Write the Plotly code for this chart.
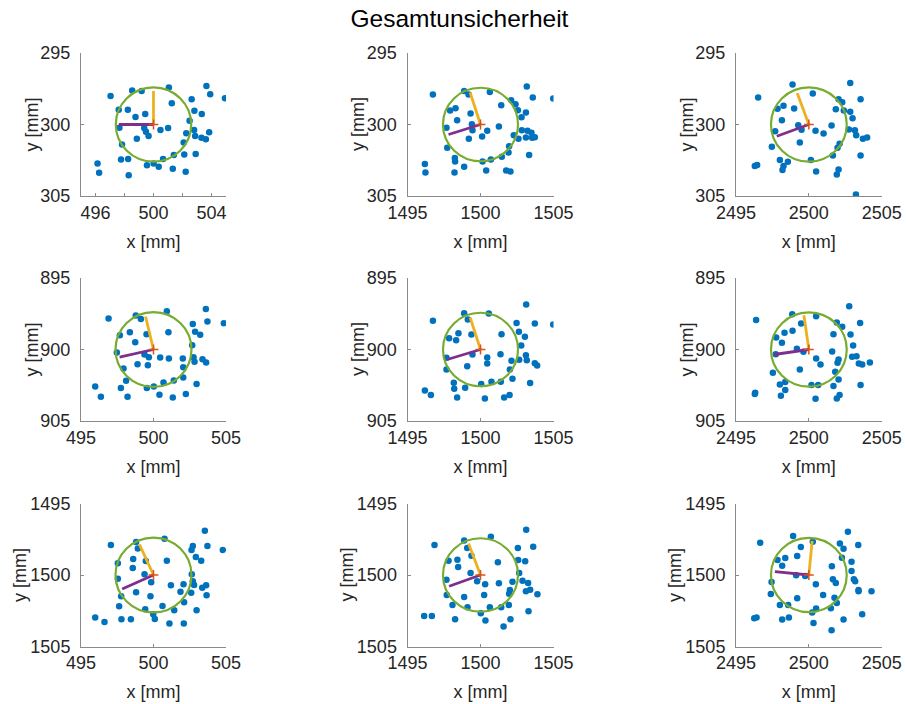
import plotly.graph_objects as go

# ---------------- data ----------------
x_centers = [500, 1500, 2500]
y_centers = [300, 900, 1500]
circle_radius = [2.6, 2.57, 2.6, 2.62, 2.57, 2.6, 2.62, 2.57, 2.6]

x_r1c1 = [503.65, 503.91, 504.93, 501.06, 498.53, 499.18, 497.04, 501.26, 502.63, 497.60,
          498.23, 502.82, 503.33, 499.43, 498.76, 502.49, 497.65, 499.36, 499.48, 499.66,
          500.48, 501.01, 502.26, 502.80, 503.84, 502.87, 503.31, 503.61, 498.85, 502.08,
          497.83, 501.40, 502.12, 502.91, 497.76, 498.25, 500.66, 496.14, 496.25, 499.55,
          500.01, 500.36, 501.33, 502.22, 498.29]
y_r1c1 = [297.30, 297.88, 298.16, 297.41, 297.62, 297.65, 298.00, 298.51, 298.23, 298.96,
          298.96, 299.03, 299.26, 299.26, 299.47, 299.73, 300.22, 300.25, 300.50, 300.81,
          300.39, 300.25, 300.62, 300.39, 300.55, 300.81, 300.93, 301.04, 300.99, 301.25,
          301.39, 302.14, 302.10, 302.07, 302.45, 302.42, 302.42, 302.73, 303.38, 302.85,
          302.73, 302.96, 303.10, 303.31, 303.55]

x_r1c2 = [1503.17, 1496.74, 1498.88, 1499.18, 1500.64, 1503.58, 1504.98, 1502.10, 1502.40, 1501.42,
          1502.56, 1503.11, 1502.81, 1497.92, 1498.29, 1499.32, 1498.40, 1499.41, 1499.45, 1497.67,
          1500.46, 1501.26, 1500.11, 1499.20, 1502.83, 1503.22, 1503.49, 1502.28, 1502.60, 1503.11,
          1503.72, 1503.54, 1497.72, 1501.96, 1501.92, 1501.46, 1503.33, 1500.71, 1500.14, 1498.24,
          1498.26, 1498.88, 1496.19, 1496.23, 1498.22, 1500.39, 1501.76, 1502.05]
y_r1c2 = [297.34, 297.90, 297.65, 297.90, 297.72, 298.11, 298.18, 298.30, 298.58, 298.65,
          299.00, 299.16, 299.49, 299.02, 298.86, 299.23, 299.70, 299.98, 300.40, 300.23,
          300.44, 300.14, 300.84, 301.00, 300.40, 300.44, 300.58, 300.75, 301.00, 300.91,
          300.89, 300.93, 301.63, 301.52, 301.96, 302.26, 302.14, 302.45, 302.59, 302.35,
          302.59, 302.96, 302.77, 303.36, 303.36, 303.22, 303.22, 303.29]

x_r1c3 = [2498.88, 2502.84, 2496.52, 2500.27, 2502.04, 2502.29, 2503.55, 2497.85, 2498.26, 2498.99,
          2501.85, 2502.40, 2502.84, 2503.00, 2498.15, 2499.27, 2499.50, 2500.46, 2501.01, 2501.56,
          2502.75, 2503.16, 2503.25, 2503.71, 2504.00, 2497.69, 2499.38, 2497.46, 2502.11, 2501.97,
          2501.65, 2503.55, 2500.14, 2498.01, 2498.56, 2498.26, 2498.19, 2500.50, 2502.04, 2501.92,
          2496.29, 2496.45, 2503.23]
y_r1c3 = [297.20, 297.09, 298.11, 297.83, 298.23, 298.44, 298.23, 298.90, 298.69, 298.88,
          298.93, 299.02, 299.11, 299.56, 299.70, 300.05, 300.37, 300.44, 300.63, 300.07,
          300.35, 300.40, 300.75, 301.00, 300.91, 300.47, 301.26, 301.56, 301.35, 301.63,
          302.17, 302.17, 302.49, 302.49, 302.61, 302.91, 303.19, 303.29, 303.15, 303.50,
          302.91, 302.84, 304.90]

x_r2c1 = [503.61, 503.72, 504.85, 496.90, 498.78, 499.13, 500.92, 502.71, 502.87, 503.22,
          501.03, 498.37, 497.68, 499.52, 498.74, 502.67, 497.47, 499.38, 499.68, 499.61,
          500.46, 501.06, 502.02, 502.76, 502.83, 503.38, 503.63, 498.90, 502.05, 497.93,
          498.11, 497.75, 499.54, 500.02, 500.69, 501.40, 502.05, 502.97, 495.98, 496.37,
          498.21, 500.41, 501.33, 502.23]
y_r2c1 = [897.16, 898.04, 898.16, 897.83, 897.62, 897.86, 897.32, 898.21, 898.76, 898.97,
          898.79, 898.79, 899.00, 898.93, 899.49, 899.70, 900.21, 900.35, 900.54, 901.10,
          900.56, 900.63, 900.63, 900.54, 900.86, 900.68, 900.91, 901.03, 901.24, 901.33,
          902.19, 902.70, 902.70, 902.59, 902.31, 902.17, 901.96, 902.42, 902.59, 903.31,
          903.31, 903.17, 903.36, 903.12]

x_r2c2 = [1503.13, 1498.88, 1499.13, 1500.57, 1496.74, 1502.47, 1503.72, 1504.98, 1502.63, 1501.44,
          1503.04, 1498.49, 1497.85, 1498.33, 1499.38, 1502.79, 1503.11, 1503.17, 1499.45, 1500.46,
          1500.46, 1501.37, 1497.67, 1499.09, 1497.67, 1502.12, 1502.65, 1503.72, 1503.88, 1502.01,
          1498.17, 1498.20, 1498.95, 1500.05, 1500.75, 1501.39, 1502.19, 1503.40, 1496.19, 1496.60,
          1498.40, 1500.30, 1501.62, 1501.99]
y_r2c2 = [896.85, 897.46, 897.90, 897.48, 897.99, 898.14, 898.18, 898.25, 898.76, 898.93,
          899.11, 898.86, 899.21, 899.35, 898.95, 899.72, 900.40, 900.75, 900.35, 900.56,
          900.98, 900.33, 900.58, 901.17, 901.40, 900.79, 900.72, 900.96, 901.12, 901.40,
          902.33, 902.75, 902.68, 902.42, 902.26, 902.26, 902.05, 902.35, 902.87, 903.19,
          903.36, 903.43, 903.36, 903.19]

x_r2c3 = [2502.77, 2496.38, 2498.86, 2499.47, 2500.50, 2501.92, 2502.29, 2503.52, 2498.33, 2498.88,
          2497.76, 2498.15, 2501.69, 2502.86, 2503.04, 2499.18, 2499.63, 2501.60, 2500.50, 2500.80,
          2502.04, 2501.97, 2502.97, 2503.27, 2503.43, 2503.66, 2504.19, 2497.73, 2499.38, 2497.53,
          2501.81, 2502.04, 2501.69, 2503.55, 2500.18, 2500.64, 2498.01, 2498.38, 2498.38, 2498.08,
          2500.46, 2502.11, 2501.92, 2496.32, 2496.29]
y_r2c3 = [896.97, 897.93, 897.53, 898.18, 897.67, 898.11, 898.41, 898.14, 898.83, 898.69,
          899.16, 899.53, 898.93, 898.95, 899.72, 899.95, 900.16, 900.14, 900.63, 901.05,
          900.70, 900.93, 900.51, 900.47, 900.98, 901.05, 900.91, 900.33, 901.40, 901.63,
          901.56, 902.10, 902.56, 902.49, 902.49, 902.49, 902.45, 902.28, 902.84, 903.24,
          903.45, 903.19, 903.43, 903.03, 903.12]

x_r3c1 = [503.54, 503.72, 504.78, 497.06, 498.80, 498.92, 500.76, 502.71, 502.62, 502.92,
          503.29, 500.92, 498.60, 497.54, 499.47, 498.57, 502.64, 499.38, 497.54, 499.84,
          501.20, 502.07, 502.71, 502.80, 503.36, 503.63, 498.80, 497.77, 499.79, 501.86,
          502.60, 503.66, 502.11, 497.63, 499.43, 500.62, 499.98, 500.09, 501.43, 502.97,
          495.98, 496.62, 497.79, 498.44, 501.10, 502.09]
y_r3c1 = [1496.90, 1497.97, 1498.25, 1497.90, 1497.69, 1498.14, 1497.46, 1497.97, 1498.25, 1498.74,
          1499.00, 1499.00, 1498.88, 1499.18, 1499.02, 1499.51, 1499.95, 1499.95, 1500.26, 1500.51,
          1500.72, 1500.65, 1500.44, 1500.70, 1500.89, 1500.72, 1501.21, 1501.49, 1501.49, 1501.17,
          1501.24, 1501.42, 1501.91, 1502.19, 1502.40, 1502.17, 1502.75, 1503.08, 1502.47, 1502.47,
          1502.98, 1503.29, 1503.10, 1503.10, 1503.40, 1503.40]

x_r3c2 = [1503.13, 1496.85, 1498.88, 1499.09, 1500.71, 1502.56, 1503.61, 1497.81, 1498.42, 1498.47,
          1499.38, 1501.19, 1502.58, 1503.06, 1502.65, 1499.32, 1499.77, 1500.32, 1501.26, 1502.19,
          1502.88, 1503.26, 1497.67, 1497.69, 1498.88, 1500.25, 1502.01, 1501.96, 1503.11, 1503.40,
          1503.90, 1498.08, 1499.11, 1500.64, 1501.42, 1501.94, 1500.02, 1500.34, 1498.26, 1496.14,
          1496.67, 1502.05, 1501.58, 1503.29]
y_r3c2 = [1496.83, 1497.90, 1497.58, 1498.11, 1497.32, 1498.11, 1498.02, 1499.00, 1498.93, 1499.44,
          1498.65, 1499.11, 1498.95, 1499.04, 1499.86, 1499.86, 1500.44, 1500.65, 1500.58, 1500.47,
          1500.40, 1500.56, 1500.33, 1501.40, 1501.54, 1501.40, 1501.05, 1501.31, 1501.14, 1501.03,
          1501.35, 1502.10, 1502.26, 1502.26, 1502.26, 1502.10, 1502.68, 1503.19, 1503.10, 1502.87,
          1502.87, 1503.10, 1503.61, 1502.54]

x_r3c3 = [2502.68, 2496.66, 2498.92, 2499.45, 2500.27, 2502.13, 2502.38, 2503.39, 2497.85, 2498.38,
          2499.20, 2498.17, 2501.58, 2502.27, 2502.93, 2502.93, 2499.13, 2499.75, 2501.65, 2501.85,
          2500.48, 2503.09, 2503.18, 2503.41, 2503.41, 2504.30, 2497.44, 2497.39, 2499.20, 2500.98,
          2501.76, 2501.92, 2501.51, 2500.50, 2500.23, 2498.01, 2498.58, 2498.17, 2498.63, 2500.32,
          2502.38, 2501.56, 2503.66, 2496.25, 2496.41]
y_r3c3 = [1496.97, 1497.74, 1497.27, 1498.04, 1497.67, 1497.79, 1498.16, 1497.90, 1498.95, 1498.81,
          1498.67, 1499.35, 1499.39, 1498.79, 1499.07, 1499.72, 1500.02, 1500.07, 1500.30, 1500.56,
          1500.65, 1500.30, 1500.44, 1501.05, 1501.14, 1501.14, 1500.49, 1501.33, 1501.63, 1501.40,
          1501.59, 1501.96, 1502.33, 1502.35, 1502.63, 1502.10, 1502.10, 1503.12, 1502.98, 1503.36,
          1503.12, 1503.87, 1502.75, 1503.03, 1502.98]

# end points of the two axis vectors (orange / purple), starting at the panel centre
orange_end_x = [500.00, 1499.29, 2499.20, 499.45, 1499.29, 2499.66, 499.03, 1499.18, 2500.23]
orange_end_y = [297.65, 297.76, 297.79, 897.69, 897.76, 897.60, 1497.86, 1497.79, 1497.62]
purple_end_x = [497.61, 1497.81, 2497.80, 497.66, 1497.72, 2497.62, 497.84, 1497.85, 2497.67]
purple_end_y = [300.00, 300.70, 300.82, 900.54, 900.70, 900.35, 1500.98, 1500.79, 1499.77]

panel_x = [x_r1c1, x_r1c2, x_r1c3, x_r2c1, x_r2c2, x_r2c3, x_r3c1, x_r3c2, x_r3c3]
panel_y = [y_r1c1, y_r1c2, y_r1c3, y_r2c1, y_r2c2, y_r2c3, y_r3c1, y_r3c2, y_r3c3]

title_text = "Gesamtunsicherheit"
x_label = "x [mm]"
y_label = "y [mm]"

# ---------------- layout geometry ----------------
W, H = 906, 704
col_px = [(81, 226), (407.5, 553.5), (736, 881.7)]
row_px = [(53, 196), (278, 421), (503.5, 646.5)]
ytitle_offset = [50, 50, 61]   # px left of the y axis line (wider labels in row 3)

BLUE = "#0072BD"
ORANGE = "#EDB120"
PURPLE = "#7E2F8E"
GREEN = "#77AC30"
RED = "#D95319"
FONT = "Liberation Sans, Arial, Helvetica, sans-serif"
TXT = "#262626"
AX = "#8a8a8a"

fig = go.Figure()
layout = dict(
    width=W, height=H,
    margin=dict(l=0, r=0, t=0, b=0, pad=0, autoexpand=False),
    paper_bgcolor="white", plot_bgcolor="white",
    showlegend=False,
    font=dict(family=FONT, color=TXT),
    title=dict(text=title_text, x=459.5 / W, xanchor="center", xref="paper",
               y=1 - 18 / H, yanchor="middle", yref="container", automargin=False,
               font=dict(size=24.5, family=FONT, color="#000000")),
)
shapes = []
annotations = []

for k in range(9):
    r, c = divmod(k, 3)
    cx, cy = x_centers[c], y_centers[r]
    xa = "x" if k == 0 else f"x{k+1}"
    ya = "y" if k == 0 else f"y{k+1}"
    xkey = "xaxis" if k == 0 else f"xaxis{k+1}"
    ykey = "yaxis" if k == 0 else f"yaxis{k+1}"

    if k == 0:
        tv = [496, 498, 500, 502, 504]
        tt = ["496", "", "500", "", "504"]
    else:
        tv = [cx - 5, cx, cx + 5]
        tt = [str(v) for v in tv]

    layout[xkey] = dict(
        domain=[col_px[c][0] / W, col_px[c][1] / W],
        anchor=ya, range=[cx - 5, cx + 5], automargin=False,
        tickmode="array", tickvals=tv, ticktext=tt,
        ticks="inside", ticklen=3, tickcolor=AX,
        showline=True, linecolor=AX, linewidth=1, mirror=False,
        showgrid=False, zeroline=False,
        tickfont=dict(size=18, family=FONT, color=TXT),
        ticklabelstandoff=0,
        title=dict(text=x_label, font=dict(size=18, family=FONT, color=TXT), standoff=13),
        fixedrange=True,
    )
    yv = [cy - 5, cy, cy + 5]
    layout[ykey] = dict(
        domain=[1 - row_px[r][1] / H, 1 - row_px[r][0] / H],
        anchor=xa, range=[cy + 5, cy - 5], automargin=False,
        tickmode="array", tickvals=yv, ticktext=[str(v) for v in yv],
        ticks="inside", ticklen=3, tickcolor=AX,
        showline=True, linecolor=AX, linewidth=1, mirror=False,
        showgrid=False, zeroline=False,
        tickfont=dict(size=18, family=FONT, color=TXT),
        ticklabelstandoff=6,
        fixedrange=True,
    )
    annotations.append(dict(
        text=y_label, textangle=-90, showarrow=False,
        xref="paper", yref="paper",
        x=(col_px[c][0] - ytitle_offset[r]) / W, xanchor="center",
        y=1 - (row_px[r][0] + row_px[r][1]) / 2 / H, yanchor="middle",
        font=dict(size=18, family=FONT, color=TXT)))

    fig.add_trace(go.Scatter(
        x=panel_x[k], y=panel_y[k], mode="markers", xaxis=xa, yaxis=ya,
        marker=dict(color=BLUE, size=6.5, line=dict(width=0)), hoverinfo="x+y"))

    rad = circle_radius[k]
    shapes.append(dict(type="circle", xref=xa, yref=ya,
                       x0=cx - rad, x1=cx + rad, y0=cy - rad, y1=cy + rad,
                       line=dict(color=GREEN, width=2.2), layer="above"))

    fig.add_trace(go.Scatter(
        x=[cx, orange_end_x[k]], y=[cy, orange_end_y[k]], mode="lines", xaxis=xa, yaxis=ya,
        line=dict(color=ORANGE, width=2.8)))
    fig.add_trace(go.Scatter(
        x=[cx, purple_end_x[k]], y=[cy, purple_end_y[k]], mode="lines", xaxis=xa, yaxis=ya,
        line=dict(color=PURPLE, width=2.8)))
    fig.add_trace(go.Scatter(
        x=[cx], y=[cy], mode="markers", xaxis=xa, yaxis=ya,
        marker=dict(symbol="cross-thin", size=7, line=dict(color=RED, width=1.5))))

layout["shapes"] = shapes
layout["annotations"] = annotations
fig.update_layout(**layout)
fig.write_html("out.html",
               config={"displayModeBar": False},
               post_script="document.body.style.margin='0';document.body.style.padding='0';")
